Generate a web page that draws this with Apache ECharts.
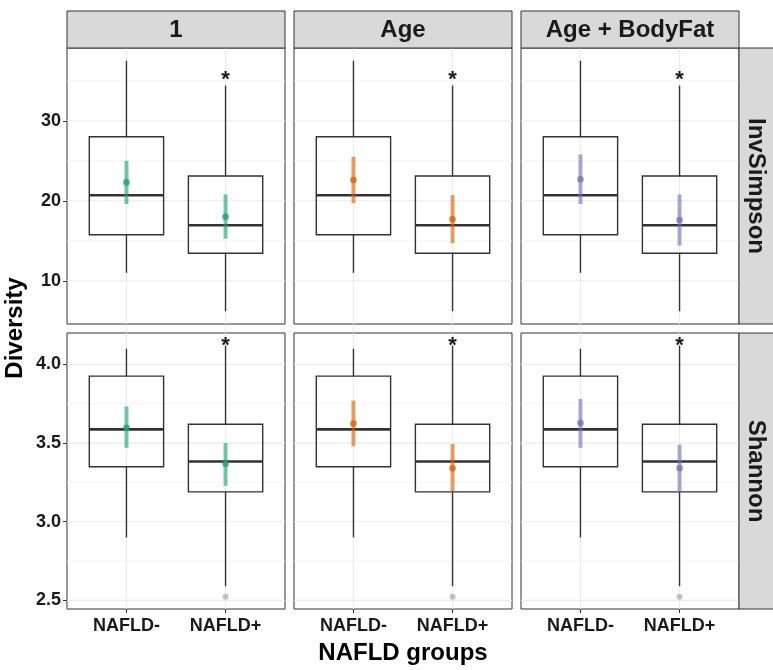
<!DOCTYPE html>
<html>
<head>
<meta charset="utf-8">
<script src="https://cdn.jsdelivr.net/npm/echarts@6/dist/echarts.min.js"></script>
<style>html,body{margin:0;padding:0;background:#fff}#c{width:773px;height:670px}</style>
</head>
<body>
<div id="c"></div>
<script>
// ---------- DATA ----------
const columns = ['1', 'Age', 'Age + BodyFat'];
const metrics = ['InvSimpson', 'Shannon'];
const groups = ['NAFLD-', 'NAFLD+'];
// box statistics: [x, lowerWhisker, Q1, median, Q3, upperWhisker]
const invSimpsonBox = [[1, 11.0, 15.75, 20.7, 28.0, 37.5], [2, 6.2, 13.45, 16.95, 23.1, 34.4]];
const shannonBox = [[1, 2.90, 3.35, 3.587, 3.926, 4.10], [2, 2.59, 3.19, 3.383, 3.62, 4.12]];
// adjusted means with interval per column (1, Age, Age + BodyFat): [x, mean, lower, upper]
const invSimpsonMean = [
  [[1, 22.3, 19.6, 25.0], [2, 18.0, 15.25, 20.8]],
  [[1, 22.6, 19.7, 25.5], [2, 17.7, 14.7, 20.7]],
  [[1, 22.7, 19.6, 25.8], [2, 17.6, 14.4, 20.8]]
];
const shannonMean = [
  [[1, 3.597, 3.47, 3.733], [2, 3.368, 3.228, 3.50]],
  [[1, 3.625, 3.48, 3.77], [2, 3.34, 3.193, 3.494]],
  [[1, 3.627, 3.47, 3.78], [2, 3.34, 3.19, 3.49]]
];
const invSimpsonOutliers = [];
const shannonOutliers = [[2, 2.523]];
// significance star positions
const invSimpsonStar = [[2, 35.7]];
const shannonStar = [[2, 4.15]];
// y-axis ticks
const invSimpsonTicks = [10, 20, 30];
const invSimpsonMinor = [15, 25, 35];
const shannonTicks = [2.5, 3.0, 3.5, 4.0];
const shannonMinor = [2.75, 3.25, 3.75];
const colors = ['#1B9E77', '#D95F02', '#7570B3'];

// ---------- LAYOUT ----------
const colLeft = [67, 294, 521], colW = 218;
const rowTop = [48, 333], rowH = 276;
const yRange = [[4.6, 39.1], [2.445, 4.2]];
const boxData = [invSimpsonBox, shannonBox];
const meanData = [invSimpsonMean, shannonMean];
const outData = [invSimpsonOutliers, shannonOutliers];
const starData = [invSimpsonStar, shannonStar];
const ticks = [invSimpsonTicks, shannonTicks];
const minors = [invSimpsonMinor, shannonMinor];
const FONT = 'Liberation Sans, Arial, sans-serif';
const DARK = '#333333';

const grids = [], xAxes = [], yAxes = [], series = [], graphics = [];

function hexA(hex, a) {
  const n = parseInt(hex.slice(1), 16);
  return 'rgba(' + ((n >> 16) & 255) + ',' + ((n >> 8) & 255) + ',' + (n & 255) + ',' + a + ')';
}

for (let r = 0; r < 2; r++) {
  for (let c = 0; c < 3; c++) {
    const idx = r * 3 + c;
    grids.push({ left: colLeft[c], top: rowTop[r], width: colW, height: rowH,
      show: true, borderColor: DARK, borderWidth: 1, backgroundColor: '#fff', containLabel: false });
    xAxes.push({ type: 'value', gridIndex: idx, min: 0.4, max: 2.6,
      axisLine: { show: false },
      axisTick: { show: r === 1, customValues: [1, 2], length: 4, lineStyle: { color: DARK } },
      axisLabel: { show: r === 1, customValues: [1, 2], margin: 8,
        formatter: v => groups[Math.round(v) - 1] || '',
        fontFamily: FONT, fontWeight: 'bold', fontSize: 18, color: '#1a1a1a' },
      splitLine: { show: false } });
    yAxes.push({ type: 'value', gridIndex: idx, min: yRange[r][0], max: yRange[r][1],
      axisLine: { show: false },
      axisTick: { show: c === 0, customValues: ticks[r], length: 4, lineStyle: { color: DARK } },
      axisLabel: { show: c === 0, customValues: ticks[r], margin: 6,
        formatter: v => r === 1 ? Number(v).toFixed(1) : String(v),
        fontFamily: FONT, fontWeight: 'bold', fontSize: 18, color: '#1a1a1a' },
      splitLine: { show: false } });

    // grid lines: [value, kind] kind 0 = major horizontal, 1 = minor horizontal, 2 = vertical
    const gl = ticks[r].map(v => [v, 0]).concat(minors[r].map(v => [v, 1])).concat([[1, 2], [2, 2]]);
    series.push({ type: 'custom', xAxisIndex: idx, yAxisIndex: idx, silent: true, z: 1,
      data: gl, encode: { x: -1, y: -1 },
      renderItem: (params, api) => {
        const v = api.value(0), k = api.value(1), cs = params.coordSys;
        if (k === 2) {
          const x = api.coord([v, yRange[r][0]])[0];
          return { type: 'line', shape: { x1: x, y1: cs.y, x2: x, y2: cs.y + cs.height },
            style: { stroke: '#EBEBEB', lineWidth: 1.1 } };
        }
        const y = api.coord([1, v])[1];
        return { type: 'line', shape: { x1: cs.x, y1: y, x2: cs.x + cs.width, y2: y },
          style: { stroke: k === 0 ? '#EBEBEB' : '#F2F2F2', lineWidth: k === 0 ? 1.1 : 0.8 } };
      } });

    // boxplots
    series.push({ type: 'custom', xAxisIndex: idx, yAxisIndex: idx, z: 3,
      data: boxData[r], encode: { x: 0, y: [1, 2, 3, 4, 5] },
      renderItem: (params, api) => {
        const x = api.value(0);
        const w = api.size([0.75, 0])[0];
        const pLo = api.coord([x, api.value(1)]);
        const pQ1 = api.coord([x, api.value(2)]);
        const pMed = api.coord([x, api.value(3)]);
        const pQ3 = api.coord([x, api.value(4)]);
        const pHi = api.coord([x, api.value(5)]);
        const cx = pMed[0];
        const st = { stroke: DARK, lineWidth: 1.4, fill: null };
        return { type: 'group', children: [
          { type: 'line', shape: { x1: cx, y1: pHi[1], x2: cx, y2: pQ3[1] }, style: st },
          { type: 'line', shape: { x1: cx, y1: pQ1[1], x2: cx, y2: pLo[1] }, style: st },
          { type: 'rect', shape: { x: cx - w / 2, y: pQ3[1], width: w, height: pQ1[1] - pQ3[1] }, style: st },
          { type: 'line', shape: { x1: cx - w / 2, y1: pMed[1], x2: cx + w / 2, y2: pMed[1] },
            style: { stroke: DARK, lineWidth: 2.6 } }
        ] };
      } });

    // outliers
    series.push({ type: 'scatter', xAxisIndex: idx, yAxisIndex: idx, z: 3,
      data: outData[r], symbolSize: 6, itemStyle: { color: '#B3B3B3' }, silent: true });

    // means with intervals
    series.push({ type: 'custom', xAxisIndex: idx, yAxisIndex: idx, z: 4,
      data: meanData[r][c], encode: { x: 0, y: [1, 2, 3] },
      renderItem: (params, api) => {
        const x = api.value(0);
        const pM = api.coord([x, api.value(1)]);
        const pL = api.coord([x, api.value(2)]);
        const pU = api.coord([x, api.value(3)]);
        return { type: 'group', children: [
          { type: 'line', shape: { x1: pM[0], y1: pU[1], x2: pM[0], y2: pL[1] },
            style: { stroke: hexA(colors[c], 0.6), lineWidth: 4 } },
          { type: 'circle', shape: { cx: pM[0], cy: pM[1], r: 3.3 },
            style: { fill: hexA(colors[c], 0.75) } }
        ] };
      } });

    // significance star
    series.push({ type: 'custom', xAxisIndex: idx, yAxisIndex: idx, z: 5,
      data: starData[r], encode: { x: 0, y: 1 },
      renderItem: (params, api) => {
        const p = api.coord([api.value(0), api.value(1)]);
        return { type: 'text', x: p[0], y: p[1] + 5,
          style: { text: '*', fontFamily: FONT, fontSize: 22, fontWeight: 'bold', fill: '#1a1a1a',
            align: 'center', verticalAlign: 'middle' } };
      } });
  }
}

// strips
for (let c = 0; c < 3; c++) {
  graphics.push({ type: 'rect', shape: { x: colLeft[c], y: 11, width: colW, height: 37 },
    style: { fill: '#D9D9D9', stroke: DARK, lineWidth: 1 }, z: 10 });
  graphics.push({ type: 'text', x: colLeft[c] + colW / 2, y: 30, z: 11,
    style: { text: columns[c], fontFamily: FONT, fontSize: 24, fontWeight: 'bold', fill: '#1a1a1a',
      align: 'center', verticalAlign: 'middle' } });
}
for (let r = 0; r < 2; r++) {
  graphics.push({ type: 'rect', shape: { x: 739, y: rowTop[r], width: 40, height: rowH },
    style: { fill: '#D9D9D9', stroke: DARK, lineWidth: 1 }, z: 10 });
  graphics.push({ type: 'text', x: 756, y: rowTop[r] + rowH / 2, rotation: -Math.PI / 2, z: 11,
    style: { text: metrics[r], fontFamily: FONT, fontSize: 24, fontWeight: 'bold', fill: '#1a1a1a',
      align: 'center', verticalAlign: 'middle' } });
}
// axis titles
graphics.push({ type: 'text', x: 15, y: 328, rotation: Math.PI / 2, z: 11,
  style: { text: 'Diversity', fontFamily: FONT, fontSize: 24, fontWeight: 'bold', fill: '#000',
    align: 'center', verticalAlign: 'middle' } });
graphics.push({ type: 'text', x: 403, y: 653, z: 11,
  style: { text: 'NAFLD groups', fontFamily: FONT, fontSize: 24, fontWeight: 'bold', fill: '#000',
    align: 'center', verticalAlign: 'middle' } });

const chart = echarts.init(document.getElementById('c'), null, { renderer: 'canvas' });
chart.setOption({
  animation: false,
  backgroundColor: '#fff',
  grid: grids, xAxis: xAxes, yAxis: yAxes, series: series, graphic: graphics
});
</script>
</body>
</html>
